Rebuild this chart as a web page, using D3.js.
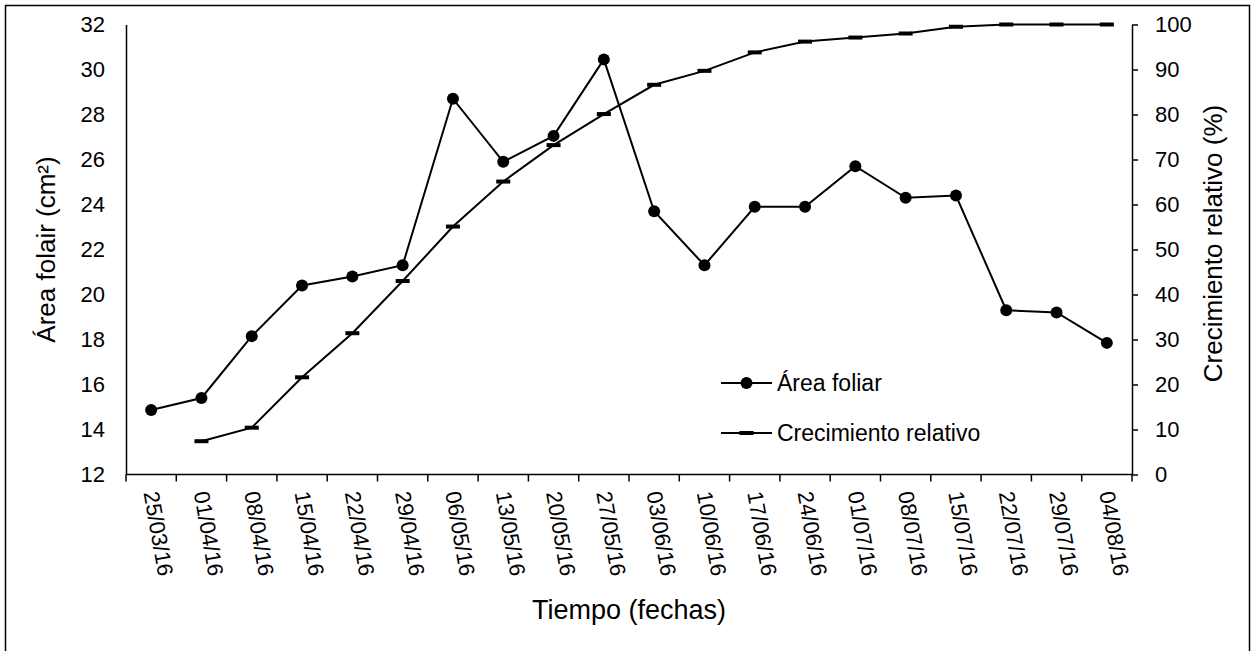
<!DOCTYPE html>
<html>
<head>
<meta charset="utf-8">
<script src="https://cdn.jsdelivr.net/npm/d3@7/dist/d3.min.js"></script>
<style>
  html, body { margin: 0; padding: 0; background: #fff; }
  svg { display: block; }
  text { font-family: "Liberation Sans", Arial, sans-serif; fill: #000; }
</style>
</head>
<body>
<svg id="chart" width="1253" height="651"></svg>
<script>
const categories = ["25/03/16","01/04/16","08/04/16","15/04/16","22/04/16","29/04/16","06/05/16","13/05/16","20/05/16","27/05/16","03/06/16","10/06/16","17/06/16","24/06/16","01/07/16","08/07/16","15/07/16","22/07/16","29/07/16","04/08/16"];
const areaFoliar = [14.87, 15.4, 18.15, 20.4, 20.8, 21.3, 28.7, 25.9, 27.05, 30.45, 23.7, 21.3, 23.9, 23.9, 25.7, 24.3, 24.4, 19.3, 19.2, 17.85];
const crecimiento = [null, 7.4, 10.4, 21.6, 31.4, 43, 55.1, 65.1, 73.2, 80.1, 86.6, 89.7, 93.8, 96.2, 97.1, 98.0, 99.5, 100, 100, 100];
const leftTicks = [12, 14, 16, 18, 20, 22, 24, 26, 28, 30, 32];
const rightTicks = [0, 10, 20, 30, 40, 50, 60, 70, 80, 90, 100];
const seriesNames = ["Área foliar", "Crecimiento relativo"];
const titles = { x: "Tiempo (fechas)", yLeft: "Área folair (cm²)", yRight: "Crecimiento relativo (%)" };

const svg = d3.select("#chart");
const L = 126, R = 1132, T = 24.5, B = 474.5;

// outer border
svg.append("rect").attr("x", 5.5).attr("y", 5.5).attr("width", 1244).attr("height", 700)
  .attr("fill", "none").attr("stroke", "#000").attr("stroke-width", 1.5);

const x = d3.scaleBand().domain(categories).range([L, R]).padding(0);
const yL = d3.scaleLinear().domain([12, 32]).range([B, T]);
const yR = d3.scaleLinear().domain([0, 100]).range([B, T]);
const cx = d => x(d) + x.bandwidth() / 2;

// left axis
const gL = svg.append("g").attr("transform", `translate(${L},0)`)
  .call(d3.axisLeft(yL).tickValues(leftTicks).tickSize(0).tickPadding(21));
gL.select(".domain").attr("stroke", "#000").attr("stroke-width", 1.5);
gL.selectAll("text").style("font-size", "22px").attr("font-family", null);

// right axis
const gR = svg.append("g").attr("transform", `translate(${R},0)`)
  .call(d3.axisRight(yR).tickValues(rightTicks).tickSize(6).tickSizeOuter(0).tickPadding(17));
gR.select(".domain").attr("stroke", "#000").attr("stroke-width", 1.5);
gR.selectAll(".tick line").attr("stroke", "#000").attr("stroke-width", 1.5);
gR.selectAll("text").style("font-size", "22px").attr("font-family", null);

// bottom axis
const gB = svg.append("g").attr("transform", `translate(0,${B})`);
gB.append("line").attr("x1", L).attr("x2", R).attr("y1", 0).attr("y2", 0)
  .attr("stroke", "#000").attr("stroke-width", 1.5);
const boundaries = categories.map(d => x(d)).concat([x.range()[1]]);
gB.selectAll("line.tk").data(boundaries).enter().append("line").attr("class", "tk")
  .attr("x1", d => d).attr("x2", d => d).attr("y1", 0).attr("y2", 7)
  .attr("stroke", "#000").attr("stroke-width", 1.5);
gB.selectAll("text.lbl").data(categories).enter().append("text").attr("class", "lbl")
  .attr("transform", d => `translate(${cx(d)},${17}) rotate(80)`)
  .attr("text-anchor", "start").attr("dy", "0.35em")
  .style("font-size", "22px").text(d => d);

// axis titles
svg.append("text").attr("x", (L + R) / 2).attr("y", 619).attr("text-anchor", "middle")
  .style("font-size", "27px").text(titles.x);
svg.append("text").attr("transform", `translate(55,${(T + B) / 2}) rotate(-90)`)
  .attr("text-anchor", "middle").style("font-size", "26px").text(titles.yLeft);
svg.append("text").attr("transform", `translate(1222,${(T + B) / 2 - 6}) rotate(-90)`)
  .attr("text-anchor", "middle").style("font-size", "26px").text(titles.yRight);

// series: crecimiento relativo
const crData = categories.map((c, i) => ({ c, v: crecimiento[i] })).filter(d => d.v !== null);
svg.append("path").datum(crData)
  .attr("d", d3.line().x(d => cx(d.c)).y(d => yR(d.v)))
  .attr("fill", "none").attr("stroke", "#000").attr("stroke-width", 2);
svg.selectAll("rect.cr").data(crData).enter().append("rect").attr("class", "cr")
  .attr("x", d => cx(d.c) - 7).attr("y", d => yR(d.v) - 2).attr("width", 14).attr("height", 4)
  .attr("fill", "#000");

// series: area foliar
const afData = categories.map((c, i) => ({ c, v: areaFoliar[i] }));
svg.append("path").datum(afData)
  .attr("d", d3.line().x(d => cx(d.c)).y(d => yL(d.v)))
  .attr("fill", "none").attr("stroke", "#000").attr("stroke-width", 2);
svg.selectAll("circle.af").data(afData).enter().append("circle").attr("class", "af")
  .attr("cx", d => cx(d.c)).attr("cy", d => yL(d.v)).attr("r", 6).attr("fill", "#000");

// legend
const lg = svg.append("g");
const legY = [383, 433];
seriesNames.forEach((name, i) => {
  lg.append("line").attr("x1", 721).attr("x2", 772).attr("y1", legY[i]).attr("y2", legY[i])
    .attr("stroke", "#000").attr("stroke-width", 2);
  if (i === 0) {
    lg.append("circle").attr("cx", 746.5).attr("cy", legY[i]).attr("r", 6).attr("fill", "#000");
  } else {
    lg.append("rect").attr("x", 739.5).attr("y", legY[i] - 2).attr("width", 14).attr("height", 4).attr("fill", "#000");
  }
  lg.append("text").attr("x", 777).attr("y", legY[i]).attr("dy", "0.35em")
    .style("font-size", "23px").text(name);
});
</script>
</body>
</html>
